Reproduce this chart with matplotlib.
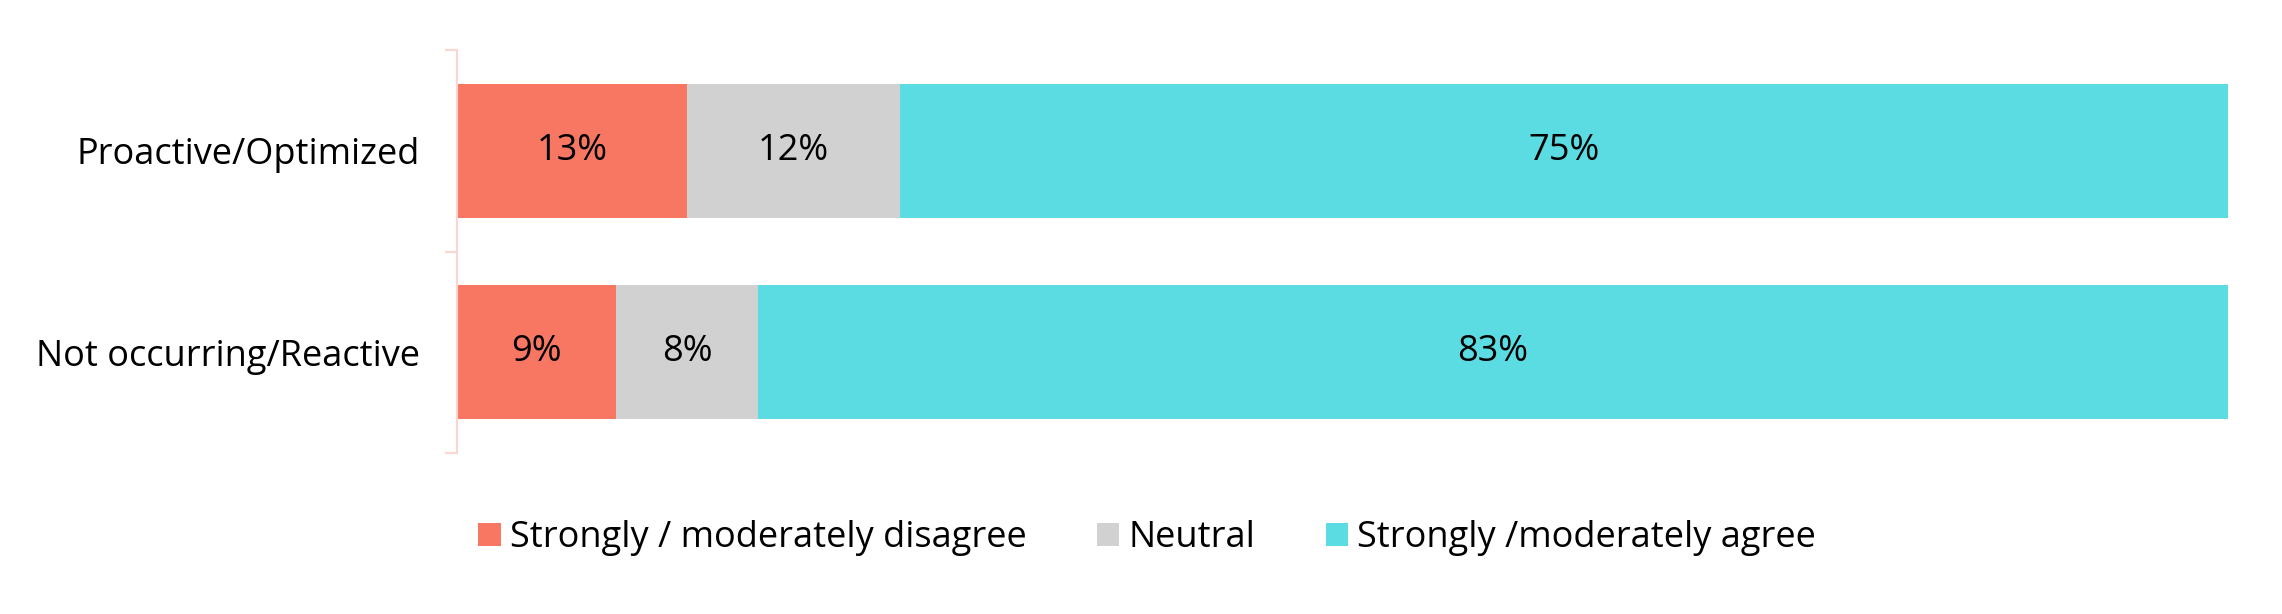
import matplotlib
matplotlib.use("Agg")
import matplotlib.pyplot as plt
import numpy as np

categories = ["Proactive/Optimized", "Not occurring/Reactive"]
series_names = ["Strongly / moderately disagree", "Neutral", "Strongly /moderately agree"]
disagree = [13, 9]
neutral = [12, 8]
agree = [75, 83]
colors = ["#F87762", "#D0D1D0", "#5BDCE3"]

plt.rcParams['font.family'] = ['Open Sans', 'DejaVu Sans']
FS = 26

fig = plt.figure(figsize=(22.82, 6.14), dpi=100)
ax = fig.add_axes([457/2282, 161/614, (2228-457)/2282, (453-50)/614])

y = np.arange(len(categories))
left = np.zeros(len(categories))
for vals, name, col in zip([disagree, neutral, agree], series_names, colors):
    vals = np.array(vals, dtype=float)
    ax.barh(y, vals, left=left, height=0.667, color=col, label=name)
    for yi, l, v in zip(y, left, vals):
        ax.text(l + v / 2, yi, f"{int(v)}%", ha="center", va="center", fontsize=FS, color="black")
    left = left + vals

ax.set_xlim(0, 100)
ax.set_ylim(len(categories) - 0.5, -0.5)
ax.set_yticks(y)
ax.set_yticklabels(categories, fontsize=FS)
ax.set_yticks(np.arange(-0.5, len(categories)), minor=True)
ax.tick_params(axis='y', which='major', length=0, pad=27)
ax.tick_params(axis='y', which='minor', length=8.5, width=1.5, color='#FBD5D0', direction='out')
ax.set_xticks([])
for s in ['top', 'right', 'bottom']:
    ax.spines[s].set_visible(False)
ax.spines['left'].set_color('#FBD5D0')
ax.spines['left'].set_linewidth(1.5)

handles, labels = ax.get_legend_handles_labels()
fig.legend(handles, labels, loc='center', bbox_to_anchor=(1147/2282, 76/614), ncol=3,
           frameon=False, fontsize=FS, handlelength=0.62, handleheight=0.62,
           handletextpad=0.25, columnspacing=1.95)

fig.savefig("out.png", dpi=100)
